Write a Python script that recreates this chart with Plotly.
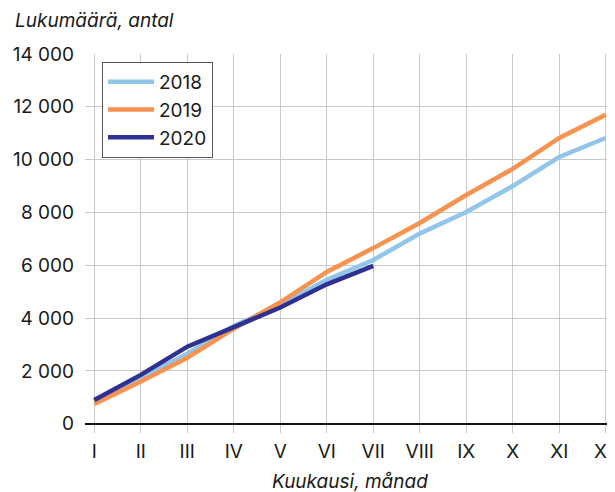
import plotly.graph_objects as go

# Kuukausittainen kumulatiivinen lukumäärä
months = ["I", "II", "III", "IV", "V", "VI", "VII", "VIII", "IX", "X", "XI", "XII"]
values_2018 = [850, 1750, 2650, 3700, 4500, 5450, 6200, 7200, 8020, 9000, 10100, 10820]
values_2019 = [750, 1600, 2500, 3600, 4600, 5750, 6650, 7600, 8660, 9650, 10820, 11700]
values_2020 = [900, 1850, 2920, 3670, 4400, 5280, 5980]

series = [
    ("2018", values_2018, "#92c5ea"),
    ("2019", values_2019, "#f7924f"),
    ("2020", values_2020, "#2e3192"),
]

FONT = "Inter"
GRID = "#c9c9c9"
FS = 19

# page body has an 8px margin, so the figure is sized to fill the rest
W, H = 607, 484
ML, MT, MB = 77, 46, 59
PW, PH = W - ML, H - MT - MB

fig = go.Figure()
for name, vals, color in series:
    fig.add_trace(
        go.Scatter(
            x=list(range(len(vals))),
            y=vals,
            name=name,
            mode="lines",
            line=dict(color=color, width=4.5),
        )
    )

fig.update_layout(
    width=W,
    height=H,
    margin=dict(l=ML, r=0, t=MT, b=MB, autoexpand=False),
    paper_bgcolor="white",
    plot_bgcolor="white",
    font=dict(family=FONT, size=FS, color="#1a1a1a"),
    separators=", ",
    showlegend=True,
    legend=dict(
        x=(102 - 85) / PW,
        y=1 - (62 - 54) / PH,
        xanchor="left",
        yanchor="top",
        bordercolor="#555555",
        borderwidth=1,
        bgcolor="white",
        itemwidth=46,
        font=dict(size=FS),
    ),
    annotations=[
        dict(
            text="<i>Lukumäärä, antal</i>",
            x=(5 - ML) / PW, y=1 + (MT - 12) / PH, xref="paper", yref="paper",
            showarrow=False, xanchor="left", yanchor="middle",
            font=dict(size=FS),
        ),
        dict(
            text="<i>Kuukausi, månad</i>",
            x=0.5, y=-(473 - (MT + PH)) / PH, xref="paper", yref="paper",
            showarrow=False, xanchor="center", yanchor="middle",
            font=dict(size=FS),
        ),
    ],
)

fig.update_xaxes(
    range=[-0.2, 11.2],
    tickmode="array",
    tickvals=list(range(len(months))),
    ticktext=months,
    showgrid=True,
    gridcolor=GRID,
    gridwidth=1,
    zeroline=False,
    showline=False,
    ticks="",
    ticklabelstandoff=5,
    ticklabeloverflow="allow",
)
fig.update_yaxes(
    range=[-350, 14000],
    tickmode="array",
    tickvals=list(range(0, 14001, 2000)),
    tickformat=",d",
    showgrid=True,
    gridcolor=GRID,
    gridwidth=1,
    zeroline=True,
    zerolinecolor="#111111",
    zerolinewidth=1.5,
    showline=False,
    ticks="",
    ticklabelstandoff=10,
)

fig.write_html("out.html")
